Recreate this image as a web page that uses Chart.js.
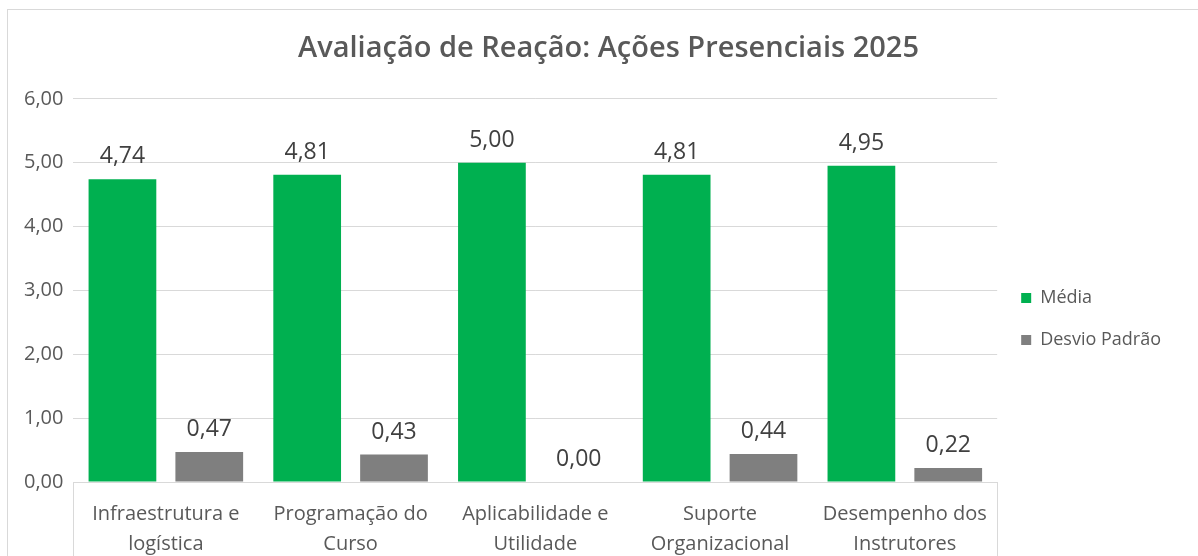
<!DOCTYPE html>
<html>
<head>
<meta charset="utf-8">
<script src="https://cdn.jsdelivr.net/npm/chart.js@4"></script>
<style>
  html, body { margin: 0; padding: 0; background: #fff; }
  #moldura { position: absolute; left: 7px; top: 9px; width: 1191px; height: 547px;
             border-top: 1px solid #d9d9d9; border-left: 1px solid #d9d9d9; }
  #caixa { position: relative; width: 1198px; height: 556px; }
  #grafico { position: absolute; left: 0; top: 0; }
</style>
</head>
<body>
<div id="caixa">
  <div id="moldura"></div>
  <canvas id="grafico" width="1198" height="556"></canvas>
</div>
<script>
// Dados do gráfico
const categorias = [
  ["Infraestrutura e", "logística"],
  ["Programação do", "Curso"],
  ["Aplicabilidade e", "Utilidade"],
  ["Suporte", "Organizacional"],
  ["Desempenho dos", "Instrutores"]
];
const media = [4.74, 4.81, 5.00, 4.81, 4.95];
const desvioPadrao = [0.47, 0.43, 0.00, 0.44, 0.22];
const ticksY = [0, 1, 2, 3, 4, 5, 6];

const fonte = "'Open Sans', sans-serif";
const virgula = v => v.toFixed(2).replace('.', ',');

// rótulos de valor acima das barras + linhas laterais do eixo x
const rotulos = {
  id: 'rotulos',
  afterLayout(chart) {
    // título um pouco à direita, como no original
    if (chart.titleBlock) chart.titleBlock.left += 32;
  },
  afterDatasetsDraw(chart) {
    const c = chart.ctx;
    const a = chart.chartArea;
    c.save();
    c.strokeStyle = '#d9d9d9';
    c.lineWidth = 1;
    c.beginPath();
    c.moveTo(Math.round(a.left) + 0.5, a.bottom);
    c.lineTo(Math.round(a.left) + 0.5, a.bottom + 77);
    c.moveTo(Math.round(a.right) + 0.5, a.bottom);
    c.lineTo(Math.round(a.right) + 0.5, a.bottom + 77);
    c.stroke();

    c.font = "23px " + fonte;
    c.fillStyle = '#404040';
    c.textAlign = 'center';
    c.textBaseline = 'bottom';
    chart.data.datasets.forEach((ds, i) => {
      chart.getDatasetMeta(i).data.forEach((el, j) => {
        c.fillText(virgula(ds.data[j]), el.x, el.y - 11);
      });
    });
    c.restore();
  }
};

const ctx = document.getElementById("grafico").getContext("2d");
new Chart(ctx, {
  type: 'bar',
  data: {
    labels: categorias,
    datasets: [
      { label: 'Média', data: media, backgroundColor: '#00b050' },
      { label: 'Desvio Padrão', data: desvioPadrao, backgroundColor: '#7f7f7f' }
    ]
  },
  options: {
    responsive: false,
    animation: false,
    devicePixelRatio: 1,
    layout: { padding: { left: 14, right: 27, top: 20, bottom: -12 } },
    datasets: { bar: { categoryPercentage: 0.94, barPercentage: 0.78 } },
    plugins: {
      title: {
        display: true,
        text: 'Avaliação de Reação: Ações Presenciais 2025',
        color: '#595959',
        font: { family: fonte, size: 29, weight: '600' },
        padding: { top: 11, bottom: 33 }
      },
      legend: {
        position: 'right',
        title: { display: true, text: '', font: { size: 15 }, padding: 16 },
        labels: {
          color: '#595959',
          font: { family: fonte, size: 18 },
          boxWidth: 10,
          boxHeight: 10,
          padding: 24
        }
      },
      tooltip: { enabled: false }
    },
    scales: {
      y: {
        min: 0,
        max: 6,
        afterBuildTicks: ax => { ax.ticks = ticksY.map(v => ({ value: v })); },
        ticks: {
          color: '#595959',
          font: { family: fonte, size: 20 },
          padding: 10,
          callback: v => virgula(v)
        },
        grid: { color: '#d9d9d9', drawTicks: false },
        border: { display: false }
      },
      x: {
        ticks: {
          color: '#595959',
          font: { family: fonte, size: 20, lineHeight: 1.5 },
          padding: 9
        },
        grid: { display: false },
        border: { display: true, color: '#d9d9d9' }
      }
    }
  },
  plugins: [rotulos]
});
</script>
</body>
</html>
